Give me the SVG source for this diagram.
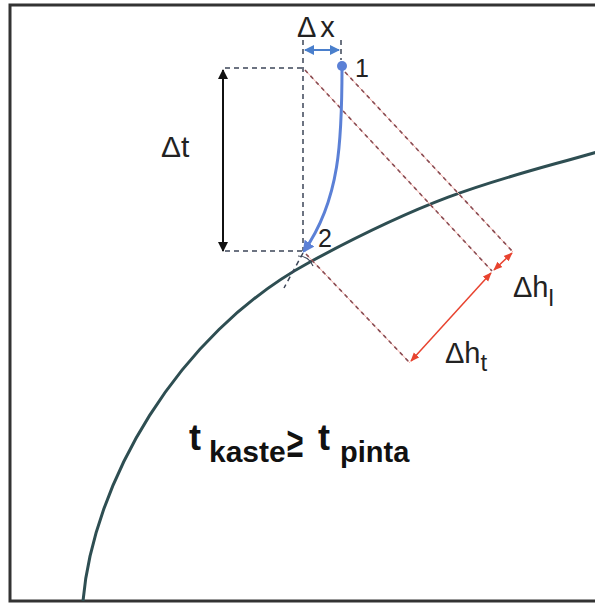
<svg xmlns="http://www.w3.org/2000/svg" width="595" height="603" viewBox="0 0 595 603">
<defs>
<style>
.frame{fill:none;stroke:#333;stroke-width:3}
.curve{fill:none;stroke:#2e4e52;stroke-width:3}
.gd{fill:none;stroke:#3c4658;stroke-width:1.5;stroke-dasharray:5 4}
.rbase{fill:none;stroke:#f3b0aa;stroke-width:1}
.rd{fill:none;stroke:#8a4c52;stroke-width:1.6;stroke-dasharray:4 4}
.lbl{font-family:"Liberation Sans",Arial,sans-serif;fill:#222}
.bold{font-family:"Liberation Sans",Arial,sans-serif;font-weight:bold;fill:#111}
</style>
<marker id="ab" viewBox="0 0 10 10" refX="9" refY="5" markerWidth="5" markerHeight="5" orient="auto-start-reverse"><path d="M0,0 L10,5 L0,10 z" fill="#111"/></marker>
<marker id="abl" viewBox="0 0 10 10" refX="9" refY="5" markerWidth="5" markerHeight="5" orient="auto-start-reverse"><path d="M0,0 L10,5 L0,10 z" fill="#4a7fcc"/></marker>
<marker id="abl2" viewBox="0 0 10 10" refX="8" refY="5" markerWidth="4" markerHeight="4" orient="auto"><path d="M0,0 L10,5 L0,10 z" fill="#5b80d6"/></marker>
<marker id="ar" viewBox="0 0 10 10" refX="9" refY="5" markerWidth="6" markerHeight="6" orient="auto-start-reverse"><path d="M0,1 L10,5 L0,9 z" fill="#e8432f"/></marker>
</defs>
<rect class="frame" x="10" y="5" width="600" height="596"/>
<g id="boundary">
<path class="curve" d="M83,601 C93,485 175,335 310,262 S500,180 597,152"/>
</g>
<g id="connectors">
<line class="gd" x1="225" y1="68" x2="303" y2="68"/>
<line class="gd" x1="225" y1="251" x2="303" y2="251"/>
<line class="gd" x1="303" y1="40" x2="303" y2="251" stroke="#4a5a7a"/>
<line class="gd" x1="341" y1="40" x2="341" y2="60"/>
<line class="gd" x1="303" y1="253" x2="284" y2="288"/>
<path d="M298,256 Q309,256 313,266" fill="none" stroke="#3c4658" stroke-width="1.2"/>
<line class="rbase" x1="305" y1="70" x2="492" y2="271"/>
<line class="rd" x1="305" y1="70" x2="492" y2="271"/>
<line class="rbase" x1="345" y1="72" x2="513" y2="252"/>
<line class="rd" x1="345" y1="72" x2="513" y2="252"/>
<line class="rbase" x1="306" y1="254" x2="410" y2="363"/>
<line class="rd" x1="306" y1="254" x2="410" y2="363"/>
<line x1="223" y1="70" x2="223" y2="251" stroke="#111" stroke-width="2" marker-start="url(#ab)" marker-end="url(#ab)"/>
<line x1="305" y1="50" x2="339" y2="50" stroke="#4a7fcc" stroke-width="2" marker-start="url(#abl)" marker-end="url(#abl)"/>
<line x1="411" y1="361" x2="491" y2="273" stroke="#e8432f" stroke-width="1.5" marker-start="url(#ar)" marker-end="url(#ar)"/>
<line x1="494" y1="270" x2="512" y2="253" stroke="#e8432f" stroke-width="1.5" marker-start="url(#ar)" marker-end="url(#ar)"/>
<path d="M342,67 C342,140 340,200 304,251" fill="none" stroke="#5b80d6" stroke-width="3" marker-end="url(#abl2)"/>
</g>
<g id="point1">
<circle cx="342" cy="66" r="5" fill="#5b80d6"/>
<text class="lbl" x="355" y="77" font-size="25">1</text>
</g>
<g id="point2">
<text class="lbl" x="318" y="247" font-size="25">2</text>
</g>
<g id="labels">
<text class="lbl" x="297" y="37" font-size="29" letter-spacing="4">Δx</text>
<text class="lbl" x="161" y="157" font-size="30">Δt</text>
<text class="lbl" x="513" y="297" font-size="29">Δh<tspan font-size="24" dy="9">l</tspan></text>
<text class="lbl" x="445" y="363" font-size="29">Δh<tspan font-size="24" dy="8">t</tspan></text>
<text class="bold" x="189" y="450" font-size="36">t<tspan font-size="30" x="209" y="462">kaste</tspan><tspan font-size="36" x="318" y="450">t</tspan><tspan font-size="29" x="340" y="462">pinta</tspan></text>
<text class="bold" transform="translate(287,457) scale(0.7,1)" x="0" y="0" font-size="42">≥</text>
</g>
</svg>
